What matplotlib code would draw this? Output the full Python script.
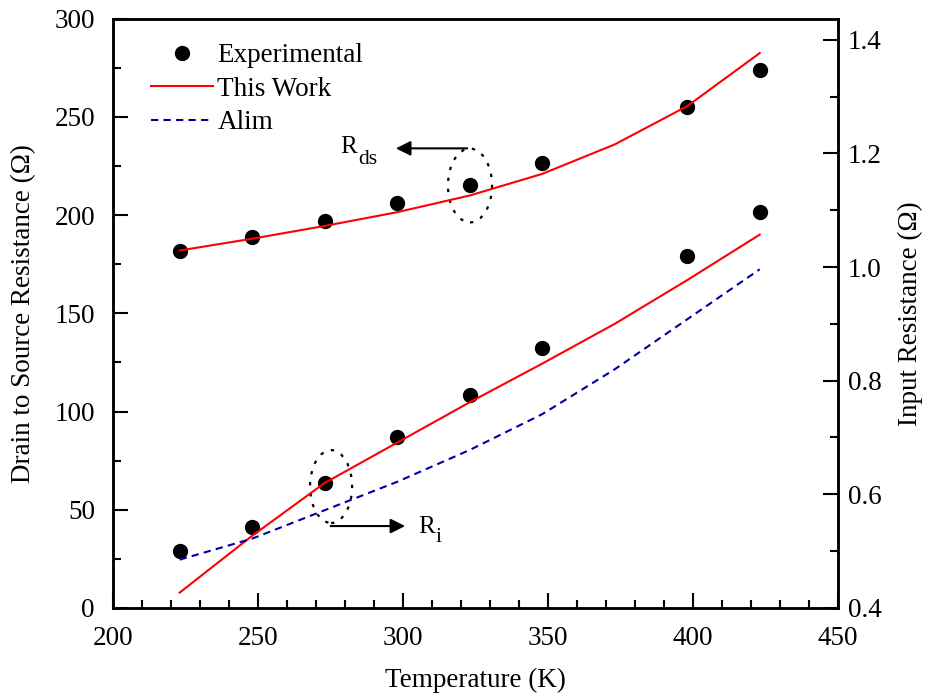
import numpy as np
import matplotlib.pyplot as plt
from matplotlib.patches import Ellipse
from matplotlib.ticker import MultipleLocator, FormatStrFormatter

plt.rcParams['font.family'] = ['Liberation Serif', 'DejaVu Serif']
plt.rcParams['font.size'] = 19.5

# temperaturas
T_exp = [223, 248, 273, 298, 323, 348, 398, 423]
T_mod = [223, 248, 273, 298, 323, 348, 373, 398, 423]

# Rds (ohm, eje izquierdo)
rds_exp = [181.9, 189.0, 197.1, 206.3, 215.5, 226.7, 255.2, 274.1]
rds_work = [182.0, 188.0, 194.5, 201.5, 210.0, 221.0, 236.0, 255.5, 282.5]

# Ri (ohm, eje derecho)
ri_exp = [0.500, 0.543, 0.620, 0.700, 0.775, 0.858, 1.019, 1.096]
ri_work = [0.427, 0.527, 0.620, 0.691, 0.762, 0.830, 0.900, 0.977, 1.057]
ri_alim = [0.485, 0.522, 0.572, 0.622, 0.678, 0.741, 0.820, 0.908, 0.996]

fig = plt.figure(figsize=(9.26, 6.94), dpi=100)
ax = fig.add_axes([0.122, 0.124, 0.783, 0.849])
ax2 = ax.twinx()

ms = 10
ax.plot(T_exp, rds_exp, 'o', color='black', ms=ms, label='Experimental')
ax.plot(T_mod, rds_work, '-', color='red', lw=1.5, label='This Work')
ax2.plot(T_exp, ri_exp, 'o', color='black', ms=ms)
ax2.plot(T_mod, ri_work, '-', color='red', lw=1.5)
ax2.plot(T_mod, ri_alim, '--', color='#0000a0', lw=1.5, dashes=(3.5, 2.5), label='Alim')

ax.set_xlim(200, 450)
ax.set_ylim(0, 300)
ax2.set_ylim(0.4, 1.437)

ax.xaxis.set_major_locator(MultipleLocator(50))
ax.xaxis.set_minor_locator(MultipleLocator(10))
ax.yaxis.set_major_locator(MultipleLocator(50))
ax.yaxis.set_minor_locator(MultipleLocator(25))
ax2.yaxis.set_major_locator(MultipleLocator(0.2))
ax2.yaxis.set_minor_locator(MultipleLocator(0.1))
ax2.yaxis.set_major_formatter(FormatStrFormatter('%.1f'))

ax.tick_params(which='both', direction='in', width=1.5)
ax.tick_params(which='major', length=11)
ax.tick_params(which='minor', length=6)
ax.tick_params(axis='x', pad=13)
ax.tick_params(axis='y', pad=13)
ax2.tick_params(which='both', direction='in', width=1.5)
ax2.tick_params(which='major', length=11, pad=7)
ax2.tick_params(which='minor', length=6)

for a in (ax, ax2):
    for s in a.spines.values():
        s.set_linewidth(1.8)

ax.set_xlabel('Temperature (K)', labelpad=12)
ax.set_ylabel('Drain to Source Resistance (Ω)', labelpad=13)
ax2.set_ylabel('Input Resistance (Ω)', labelpad=12)

# anotaciones
dot = (0, (1.5, 3.5))
ax.add_patch(Ellipse((323.1, 215.1), 15.2, 37.6, fill=False, ls=dot, lw=1.6, color='black'))
ax.annotate('', xy=(296.6, 234), xytext=(323.1, 234),
            arrowprops=dict(arrowstyle='-|>', color='black', lw=1.5, mutation_scale=22))
ax.text(278.5, 231.8, 'R', ha='left', va='baseline', fontsize=18)
ax.annotate('ds', xy=(278.5, 231.8), xytext=(12.5, -8), textcoords='offset points',
            ha='left', va='baseline', fontsize=15.5)

ax.add_patch(Ellipse((275.2, 61.8), 14.5, 37.1, fill=False, ls=dot, lw=1.6, color='black'))
ax.annotate('', xy=(301.7, 41.7), xytext=(274.1, 41.7),
            arrowprops=dict(arrowstyle='-|>', color='black', lw=1.5, mutation_scale=22))
ax.text(305.2, 38.2, 'R', ha='left', va='baseline', fontsize=18)
ax.annotate('i', xy=(305.2, 38.2), xytext=(12.5, -6.5), textcoords='offset points',
            ha='left', va='baseline', fontsize=15.5)

h1, l1 = ax.get_legend_handles_labels()
h2, l2 = ax2.get_legend_handles_labels()
ax2.legend(h1 + h2, l1 + l2, loc='upper left', bbox_to_anchor=(0.019, 1.0),
           frameon=False, handlelength=2.3, labelspacing=0.32, handletextpad=0.15,
           fontsize=19.5)

fig.savefig('out.png', dpi=100)
